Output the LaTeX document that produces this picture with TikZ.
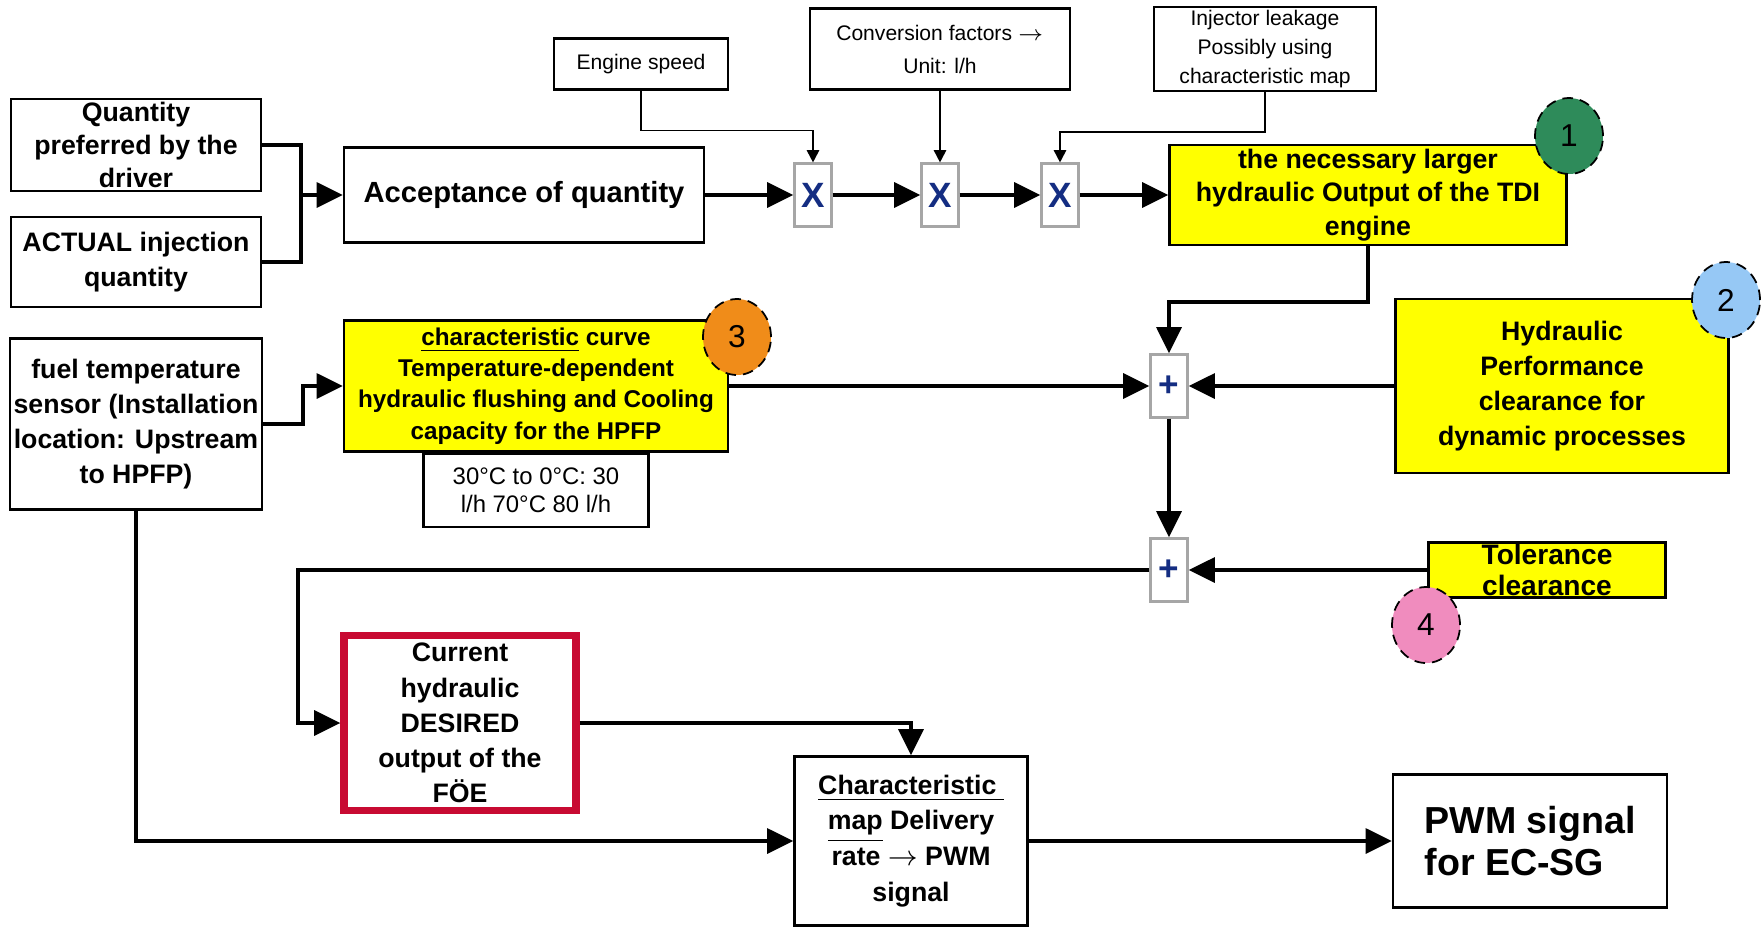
\documentclass[tikz,border=0pt]{standalone}
\usepackage{fontspec}
\setmainfont{Liberation Sans}
\usepackage{tikz}
\usetikzlibrary{arrows.meta,positioning,shapes.geometric,calc}
\definecolor{hiyellow} {RGB}{255,255,0}
\definecolor{tagsgreen}{RGB}{46,139,90}
\definecolor{tagblue}  {RGB}{150,200,245}
\definecolor{tagorange}{RGB}{240,140,25}
\definecolor{tagpink}  {RGB}{240,140,190}
\definecolor{foered}   {RGB}{200,10,50}
\definecolor{opblue}   {RGB}{20,45,130}
\tikzset{
  blk/.style   ={draw, line width=0.6pt, align=center, inner sep=1pt,
                 font=\fontsize{7.6}{10}\selectfont\bfseries},
  ylwblk/.style={blk, fill=hiyellow},
  inblk/.style ={draw, line width=0.6pt, align=center, inner sep=1pt,
                 font=\fontsize{6}{8.2}\selectfont},
  opblk/.style ={draw=gray!70, line width=0.6pt, fill=white, inner sep=0pt,
                 minimum width=0.37cm, minimum height=0.63cm,
                 font=\fontsize{10}{10}\selectfont\bfseries, text=opblue},
  numtag/.style={ellipse, draw, densely dashed, line width=0.5pt, inner sep=0pt,
                 minimum width=0.68cm, minimum height=0.76cm,
                 font=\fontsize{9}{9}\selectfont},
  arr/.style   ={-{Triangle[length=7.5pt,width=7pt]}, line width=1.3pt},
  ln/.style    ={line width=1.3pt},
  tarr/.style  ={-{Triangle[length=3.5pt,width=3.5pt]}, line width=0.5pt},
}

\begin{document}
\begin{tikzpicture}

\useasboundingbox (0,0) rectangle (17.61,-9.26);

\node[blk, minimum width=2.50cm, minimum height=0.92cm] (qty) at (1.36,-1.45)
  {Quantity\\[-0.6pt]preferred by the\\[-0.6pt]driver};
\node[blk, minimum width=2.50cm, minimum height=0.90cm] (actual) at (1.36,-2.62)
  {ACTUAL injection\\quantity};
\node[blk, minimum width=2.50cm, minimum height=1.71cm] (fuel) at (1.36,-4.24)
  {fuel temperature\\sensor (Installation\\location: Upstream\\to HPFP)};

\node[blk, minimum width=3.60cm, minimum height=0.95cm,
      font=\fontsize{8.3}{10}\selectfont\bfseries] (accept) at (5.24,-1.95)
  {Acceptance of quantity};

\node[inblk, minimum width=1.74cm, minimum height=0.51cm] (engspd) at (6.41,-0.64)
  {Engine speed};
\node[inblk, minimum width=2.60cm, minimum height=0.81cm] (conv) at (9.40,-0.49)
  {Conversion factors $\rightarrow$\\[1.2pt]Unit: l/h};
\node[inblk, minimum width=2.22cm, minimum height=0.81cm] (inj) at (12.65,-0.49)
  {Injector leakage\\Possibly using\\characteristic map};

\node[opblk] (x1) at (8.13,-1.95) {X};
\node[opblk] (x2) at (9.40,-1.95) {X};
\node[opblk] (x3) at (10.60,-1.95) {X};

\node[ylwblk, minimum width=3.97cm, minimum height=0.97cm,
      font=\fontsize{7.6}{9.6}\selectfont\bfseries] (tdi) at (13.68,-1.95)
  {the necessary larger\\hydraulic Output of the TDI\\engine};

\node[ylwblk, minimum width=3.84cm, minimum height=1.31cm,
      font=\fontsize{6.9}{8.9}\selectfont\bfseries] (curve) at (5.36,-3.86)
  {\underline{characteristic} curve\\Temperature-dependent\\hydraulic flushing and Cooling\\capacity for the HPFP};
\node[draw, line width=0.6pt, align=center, inner sep=1pt,
      minimum width=2.25cm, minimum height=0.73cm,
      font=\fontsize{6.8}{8}\selectfont, below=0pt of curve] (temps)
  {30°C to 0°C: 30\\l/h 70°C 80 l/h};

\node[opblk] (plus1) at (11.69,-3.86) {+};
\node[opblk] (plus2) at (11.69,-5.70) {+};

\node[ylwblk, minimum width=3.33cm, minimum height=1.74cm] (hydperf) at (15.62,-3.86)
  {Hydraulic\\Performance\\clearance for\\dynamic processes};
\node[ylwblk, minimum width=2.37cm, minimum height=0.55cm, inner sep=0pt,
      font=\fontsize{8}{8.6}\selectfont\bfseries] (tol) at (15.47,-5.70)
  {Tolerance\\clearance};

\node[blk, draw=foered, line width=2pt, minimum width=2.32cm, minimum height=1.75cm]
  (foe) at (4.60,-7.23)
  {Current\\hydraulic\\DESIRED\\output of the\\FÖE};

\node[blk, minimum width=2.33cm, minimum height=1.69cm,
      font=\fontsize{7.6}{10.2}\selectfont\bfseries] (charmap) at (9.11,-8.41)
  {\underline{Characteristic\ }\\\underline{map} Delivery\\rate $\rightarrow$ PWM\\signal};

\node[blk, minimum width=2.74cm, minimum height=1.33cm, align=left,
      font=\fontsize{10.7}{12.2}\selectfont\bfseries] (pwm) at (15.30,-8.41)
  {PWM signal\\for EC-SG};

\node[numtag, fill=tagsgreen] (n1) at (15.69,-1.36) {1};
\node[numtag, fill=tagblue]   (n2) at (17.26,-3.00) {2};
\node[numtag, fill=tagorange] (n3) at (7.37,-3.37)  {3};
\node[numtag, fill=tagpink]   (n4) at (14.26,-6.25) {4};

\coordinate (mrg)   at (3.01,-1.95);
\coordinate (lbend) at (2.98,-5.70);

\draw[ln]  (qty.east) -| (mrg);
\draw[ln]  (actual.east) -| (mrg);
\draw[arr] (mrg) -- (accept.west);

\draw[arr] (accept.east) -- (x1.west);
\draw[arr] (x1.east) -- (x2.west);
\draw[arr] (x2.east) -- (x3.west);
\draw[arr] (x3.east) -- (tdi.west);

\draw[tarr] (engspd.south) -- ++(0,-0.40) -| (x1.north);
\draw[tarr] (conv.south) -- (x2.north);
\draw[tarr] (inj.south) -- ++(0,-0.40) -| (x3.north);

\draw[arr] (tdi.south) -- ++(0,-0.56) -| (plus1.north);
\draw[arr] (curve.east) -- (plus1.west);
\draw[arr] (hydperf.west) -- (plus1.east);
\draw[arr] (plus1.south) -- (plus2.north);
\draw[arr] (tol.west) -- (plus2.east);
\draw[arr] (plus2.west) -- (lbend) |- (foe.west);

\draw[arr] (fuel.east) -- ++(0.40,0) |- (curve.west);
\draw[arr] (fuel.south) |- (charmap.west);
\draw[arr] (foe.east) -| (charmap.north);
\draw[arr] (charmap.east) -- (pwm.west);

\end{tikzpicture}
\end{document}
